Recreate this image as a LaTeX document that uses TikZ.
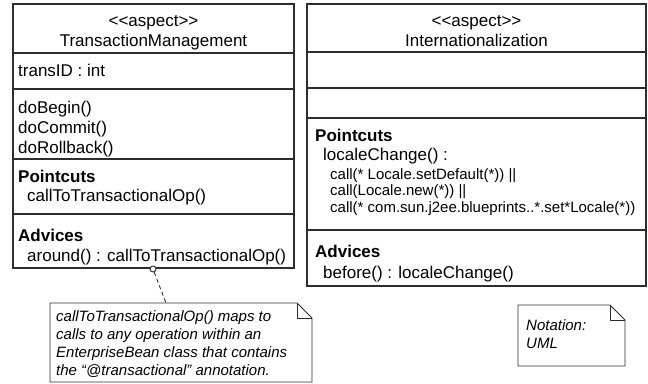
\documentclass[tikz,border=0pt]{standalone}
\usepackage{fontspec}
\setmainfont{Liberation Sans}
\usepackage{tikz}
\definecolor{umlLine}{RGB}{45,45,45}

\begin{document}
\begin{tikzpicture}[x=1pt, y=-1pt,
    umlbox/.style={draw=umlLine, line width=1.1pt},
    umltitle/.style={anchor=base, inner sep=0pt, font=\fontsize{17}{20}\selectfont},
    member/.style={anchor=base west, inner sep=0pt, font=\fontsize{17}{20}\selectfont},
    section/.style={anchor=base west, inner sep=0pt, font=\fontsize{17}{20}\selectfont\bfseries},
    pcline/.style={anchor=base west, inner sep=0pt, font=\fontsize{15}{17}\selectfont},
    notetext/.style={anchor=base west, inner sep=0pt, font=\fontsize{15}{18}\selectfont\itshape},
    notebox/.style={draw=umlLine, line width=0.9pt}]
    \useasboundingbox (0,0) rectangle (648,383);
    % aspect TransactionManagement
    \draw[umlbox] (13,4) rectangle (294,268);
    \draw[umlbox] (13,53) -- (294,53);
    \draw[umlbox] (13,89) -- (294,89);
    \draw[umlbox] (13,159) -- (294,159);
    \draw[umlbox] (13,214) -- (294,214);
    \node[umltitle] (tmStereo) at (153.5,26) {<{}<aspect>{}>};
    \node[umltitle] (tmName) at (153.5,46) {TransactionManagement};
    \node[member] (tmAttr) at (18,76) {transID : int};
    \node[member] (tmBegin) at (18,113) {doBegin()};
    \node[member] (tmCommit) at (18,133) {doCommit()};
    \node[member] (tmRollback) at (18,153) {doRollback()};
    \node[section] (tmPointcuts) at (18,182) {Pointcuts};
    \node[member] (tmPcOne) at (27,201) {callToTransactionalOp()};
    \node[section] (tmAdvices) at (18,241) {Advices};
    \node[member] (tmAround) at (27,261) {around() : callToTransactionalOp()};
    % aspect Internationalization
    \draw[umlbox] (307,4) rectangle (646,286);
    \draw[umlbox] (307,52) -- (646,52);
    \draw[umlbox] (307,88) -- (646,88);
    \draw[umlbox] (307,118) -- (646,118);
    \draw[umlbox] (307,230) -- (646,230);
    \node[umltitle] (inStereo) at (476.5,26) {<{}<aspect>{}>};
    \node[umltitle] (inName) at (476.5,46) {Internationalization};
    \node[section] (inPointcuts) at (315,141) {Pointcuts};
    \node[member] (inLocale) at (323,160) {localeChange() :};
    \node[pcline] (inCallOne) at (330,179) {call(* Locale.setDefault(*)) ||};
    \node[pcline] (inCallTwo) at (330,195.5) {call(Locale.new(*)) ||};
    \node[pcline] (inCallThree) at (330,212) {call(* com.sun.j2ee.blueprints..*.set*Locale(*))};
    \node[section] (inAdvices) at (315,257) {Advices};
    \node[member] (inBefore) at (323,278) {before() : localeChange()};
    % notes
    \draw[notebox] (50,303) -- (297,303) -- (312,318) -- (312,382) -- (50,382) -- cycle;
    \draw[notebox] (297,303) -- (297,318) -- (312,318);
    \node[notetext] (noteOpA) at (56,321) {callToTransactionalOp() maps to};
    \node[notetext] (noteOpB) at (56,339) {calls to any operation within an};
    \node[notetext] (noteOpC) at (56,357) {EnterpriseBean class that contains};
    \node[notetext] (noteOpD) at (56,375) {the “@transactional” annotation.};
    \draw[notebox] (518,305) -- (610,305) -- (625,320) -- (625,366) -- (518,366) -- cycle;
    \draw[notebox] (610,305) -- (610,320) -- (625,320);
    \node[notetext] (noteUmlA) at (526,330) {Notation:};
    \node[notetext] (noteUmlB) at (526,348) {UML};
    % anchor of the note
    \coordinate (noteFoot) at (166,303);
    \node[circle, draw=umlLine, fill=white, line width=0.9pt, inner sep=0pt, minimum size=6pt] (anchorDot) at (153,269) {};
    \draw[notebox, dash pattern=on 4pt off 3pt] (anchorDot) -- (noteFoot);
\end{tikzpicture}
\end{document}
